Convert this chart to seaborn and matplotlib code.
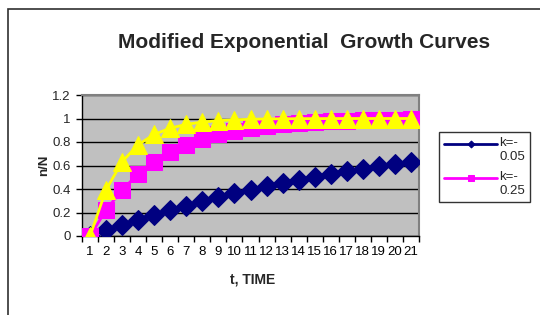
import matplotlib
matplotlib.use("Agg")
import matplotlib.pyplot as plt
import matplotlib.patches as patches
from matplotlib.ticker import FixedLocator, NullFormatter
import seaborn as sns
import pandas as pd

# ---- data ----
t = list(range(1, 22))
k005 = [0.0, 0.0488, 0.0952, 0.1393, 0.1813, 0.2212, 0.2592, 0.2953, 0.3297, 0.3624,
        0.3935, 0.4231, 0.4512, 0.4780, 0.5034, 0.5276, 0.5507, 0.5726, 0.5934, 0.6133, 0.6321]
k025 = [0.0, 0.2212, 0.3935, 0.5276, 0.6321, 0.7135, 0.7769, 0.8262, 0.8647, 0.8946,
        0.9179, 0.9361, 0.9502, 0.9612, 0.9698, 0.9765, 0.9817, 0.9857, 0.9889, 0.9913, 0.9933]
k05 = [0.0, 0.3935, 0.6321, 0.7769, 0.8647, 0.9179, 0.9502, 0.9698, 0.9817, 0.9889,
       0.9933, 0.9959, 0.9975, 0.9985, 0.9991, 0.9994, 0.9997, 0.9998, 0.9999, 0.9999, 1.0000]
labels = ["k=-\n0.05", "k=-\n0.25", "k=-\n0.5"]
y_ticks = [0, 0.2, 0.4, 0.6, 0.8, 1, 1.2]
y_ticklabels = ["0", "0.2", "0.4", "0.6", "0.8", "1", "1.2"]

sns.set_style("white")
plt.rcParams['font.family'] = ['Liberation Sans', 'DejaVu Sans']

fig = plt.figure(figsize=(5.4, 3.15), dpi=100)
ax = fig.add_axes([82/540, 1-236/315, (419-82)/540, (236-95)/315])
ax.set_facecolor("#C0C0C0")

df = pd.DataFrame({"t": t, "a": k005, "b": k025, "c": k05})
sns.lineplot(data=df, x="t", y="a", ax=ax, color="#000080", marker="D", markersize=10,
             markeredgecolor="#000080", linewidth=2, label=labels[0], zorder=3)
sns.lineplot(data=df, x="t", y="b", ax=ax, color="#FF00FF", marker="s", markersize=12,
             markeredgecolor="#FF00FF", linewidth=2, label=labels[1], zorder=4)
sns.lineplot(data=df, x="t", y="c", ax=ax, color="#FFFF00", marker="^", markersize=12.5,
             markeredgecolor="#FFFF00", linewidth=2, label=labels[2], zorder=5)

ax.set_xlim(0.5, 21.5)
ax.set_ylim(0, 1.2)
ax.set_xticks(t)
ax.set_xticklabels([str(v) for v in t])
ax.xaxis.set_minor_locator(FixedLocator([v + 0.5 for v in range(0, 22)]))
ax.xaxis.set_minor_formatter(NullFormatter())
ax.tick_params(axis="x", which="major", length=0, pad=7, labelsize=9.5, colors="black")
ax.tick_params(axis="x", which="minor", length=4, width=1, direction="out", color="black", bottom=True)
ax.set_yticks(y_ticks)
ax.set_yticklabels(y_ticklabels)
ax.tick_params(axis="y", which="major", length=4, width=1, direction="out", labelsize=9.5,
               color="black", left=True, pad=4)
ax.yaxis.grid(True, color="black", linewidth=1)
ax.xaxis.grid(False)
ax.set_axisbelow(True)
ax.set_xlabel("")
ax.set_ylabel("")

for s in ["left", "bottom"]:
    ax.spines[s].set_color("black")
    ax.spines[s].set_linewidth(1)
for s in ["top", "right"]:
    ax.spines[s].set_color("#808080")
    ax.spines[s].set_linewidth(1.5)

handles, labs = ax.get_legend_handles_labels()
if ax.get_legend():
    ax.get_legend().remove()
leg = fig.legend(handles[:2], labs[:2], loc="upper left", bbox_to_anchor=(439/540, 1-132/315),
                 bbox_transform=fig.transFigure, fontsize=9.5, frameon=True, fancybox=False,
                 edgecolor="black", markerscale=0.35, handlelength=4.0, handletextpad=0.15,
                 borderpad=0.4, labelspacing=0.6, borderaxespad=0)
leg.get_frame().set_linewidth(1)
for h in leg.legend_handles:
    h.set_linewidth(2)
    yd = h.get_ydata()
    h.set_ydata([v + 4.5 for v in yd])

fig.text(304/540, 1-42/315, "Modified Exponential  Growth Curves", ha="center", va="center",
         fontsize=15, fontweight="bold")
fig.text(44/540, 1-165/315, "n/N", ha="center", va="center", rotation=90, fontsize=9.5,
         fontweight="bold")
fig.text(253/540, 1-279/315, "t, TIME", ha="center", va="center", fontsize=10, fontweight="bold")

fig.patches.append(patches.Rectangle((7.5/540, -0.1), 1.2, 1 - 8.5/315 + 0.1,
                                     transform=fig.transFigure, fill=False,
                                     edgecolor="#303030", linewidth=1.2))

fig.savefig("out.png", dpi=100)
